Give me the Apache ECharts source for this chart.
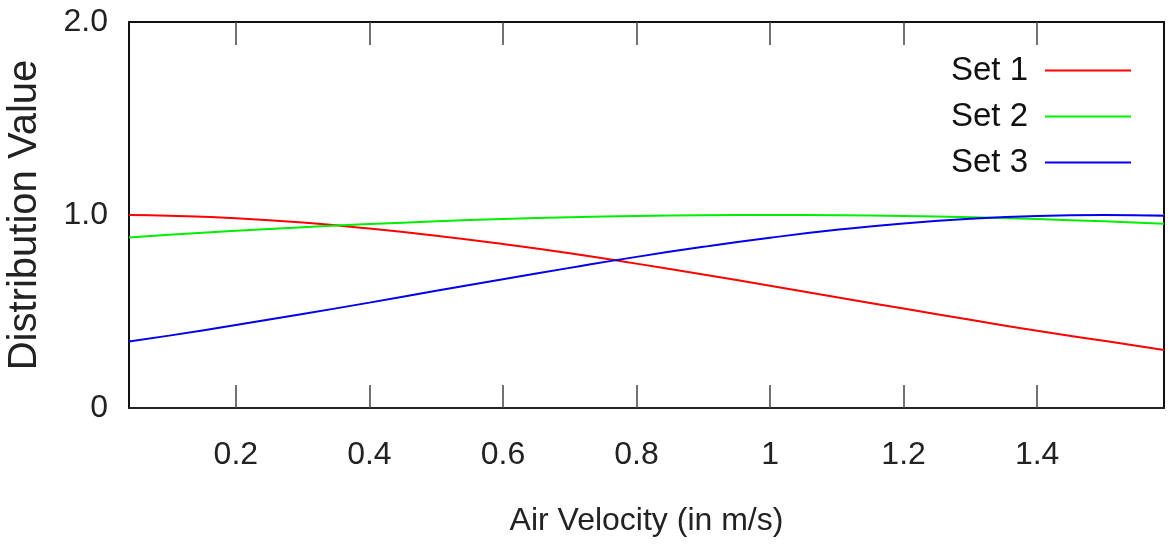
<!DOCTYPE html>
<html>
<head>
<meta charset="utf-8">
<script src="https://cdn.jsdelivr.net/npm/echarts@6/dist/echarts.min.js"></script>
<style>
html,body{margin:0;padding:0;background:#fff;}
#chart{width:1171px;height:549px;}
</style>
</head>
<body>
<div id="chart"></div>
<script>
// Data
var velocities = [0.04, 0.1, 0.2, 0.3, 0.4, 0.5, 0.6, 0.7, 0.8, 0.9, 1.0, 1.1, 1.2, 1.3, 1.4, 1.5, 1.59];
var set1 = [1.0, 0.996, 0.983, 0.961, 0.930, 0.893, 0.850, 0.802, 0.748, 0.692, 0.633, 0.574, 0.515, 0.457, 0.400, 0.348, 0.300];
var set2 = [0.884, 0.898, 0.918, 0.937, 0.953, 0.967, 0.979, 0.988, 0.995, 0.999, 1.0, 0.999, 0.995, 0.988, 0.979, 0.967, 0.955];
var set3 = [0.344, 0.375, 0.430, 0.487, 0.546, 0.607, 0.667, 0.726, 0.783, 0.835, 0.882, 0.923, 0.956, 0.980, 0.995, 1.0, 0.996];
var seriesNames = ['Set 1', 'Set 2', 'Set 3'];
var xTicks = [0.2, 0.4, 0.6, 0.8, 1.0, 1.2, 1.4];
var xTickLabels = ['0.2', '0.4', '0.6', '0.8', '1', '1.2', '1.4'];
var yTickLabels = {0: '0', 1: '1.0', 2: '2.0'};
var yMarkTicks = [1];
var xTitle = 'Air Velocity (in m/s)';
var yTitle = 'Distribution Value';

function pairs(ys) {
  return velocities.map(function (x, i) { return [x, ys[i]]; });
}

var font = "'Liberation Sans', Arial, sans-serif";
var colors = ['#ff0000', '#00ee00', '#0000ee'];

var chart = echarts.init(document.getElementById('chart'));
var xMin = 0.04, xMax = 1.59;

chart.setOption({
  animation: false,
  backgroundColor: '#ffffff',
  grid: { left: 129, right: 7, top: 22, bottom: 141, containLabel: false, outerBoundsMode: 'none' },
  legend: {
    orient: 'vertical',
    right: 35,
    top: 49,
    align: 'right',
    icon: 'rect',
    itemWidth: 86,
    itemHeight: 2,
    itemGap: 13,
    data: seriesNames,
    textStyle: { fontFamily: font, fontSize: 33, lineHeight: 30, color: '#111', padding: [0, 12, 0, 0] }
  },
  xAxis: [
    {
      type: 'value', min: xMin, max: xMax, position: 'bottom',
      name: xTitle, nameLocation: 'middle', nameGap: 97,
      nameTextStyle: { fontFamily: font, fontSize: 32, color: '#222' },
      axisLine: { show: true, onZero: false, lineStyle: { color: '#222', width: 2 } },
      axisTick: { show: true, inside: true, length: 23, customValues: xTicks, lineStyle: { color: '#444', width: 1.5 } },
      axisLabel: {
        show: true, margin: 31, customValues: xTicks,
        fontFamily: font, fontSize: 32, color: '#222',
        formatter: function (v) {
          var i = xTicks.findIndex(function (t) { return Math.abs(t - v) < 1e-6; });
          return i >= 0 ? xTickLabels[i] : '';
        }
      },
      splitLine: { show: false }
    },
    {
      type: 'value', min: xMin, max: xMax, position: 'top',
      axisLine: { show: true, onZero: false, lineStyle: { color: '#111', width: 2 } },
      axisTick: { show: true, inside: true, length: 23, customValues: xTicks, lineStyle: { color: '#444', width: 1.5 } },
      axisLabel: { show: false },
      splitLine: { show: false }
    }
  ],
  yAxis: [
    {
      type: 'value', min: 0, max: 2, interval: 1, position: 'left',
      name: yTitle, nameLocation: 'middle', nameGap: 84, nameRotate: 90,
      nameTextStyle: { fontFamily: font, fontSize: 40, color: '#222' },
      axisLine: { show: true, onZero: false, lineStyle: { color: '#111', width: 2 } },
      axisTick: { show: true, inside: true, length: 17, customValues: yMarkTicks, lineStyle: { color: '#ccc', width: 1.5 } },
      axisLabel: {
        margin: 21, fontFamily: font, fontSize: 32, color: '#222',
        formatter: function (v) { return yTickLabels[v] !== undefined ? yTickLabels[v] : ''; }
      },
      splitLine: { show: false }
    },
    {
      type: 'value', min: 0, max: 2, interval: 1, position: 'right',
      axisLine: { show: true, onZero: false, lineStyle: { color: '#111', width: 2 } },
      axisTick: { show: true, inside: true, length: 17, customValues: yMarkTicks, lineStyle: { color: '#ccc', width: 1.5 } },
      axisLabel: { show: false },
      splitLine: { show: false }
    }
  ],
  series: [
    { name: seriesNames[0], type: 'line', data: pairs(set1), smooth: true, symbol: 'none', lineStyle: { color: colors[0], width: 2 }, itemStyle: { color: colors[0] } },
    { name: seriesNames[1], type: 'line', data: pairs(set2), smooth: true, symbol: 'none', lineStyle: { color: colors[1], width: 2 }, itemStyle: { color: colors[1] } },
    { name: seriesNames[2], type: 'line', data: pairs(set3), smooth: true, symbol: 'none', lineStyle: { color: colors[2], width: 2 }, itemStyle: { color: colors[2] } }
  ]
});
</script>
</body>
</html>
